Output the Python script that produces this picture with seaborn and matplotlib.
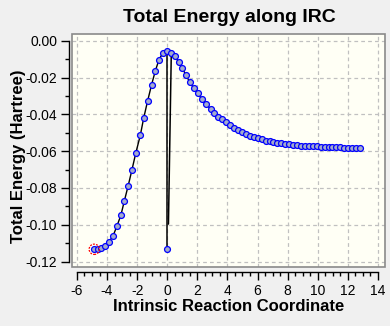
import numpy as np
import pandas as pd
import matplotlib
matplotlib.use("Agg")
import matplotlib.pyplot as plt
import seaborn as sns
from matplotlib.ticker import MultipleLocator
from matplotlib.patches import Rectangle

# ---- data ----
irc_x = [-4.85, -4.62, -4.41, -4.15, -3.88, -3.61, -3.35, -3.08, -2.86, -2.60,
         -2.35, -2.09, -1.79, -1.57, -1.31, -1.04, -0.80, -0.56, -0.29, 0.00,
         0.27, 0.50, 0.77, 1.00, 1.24, 1.50, 1.77, 2.03, 2.30, 2.56,
         2.88, 3.14, 3.40, 3.66, 3.92, 4.18, 4.45, 4.71, 4.97, 5.23,
         5.49, 5.75, 6.01, 6.28, 6.54, 6.80, 7.06, 7.32, 7.58, 7.84,
         8.11, 8.37, 8.63, 8.89, 9.15, 9.41, 9.67, 9.94, 10.20, 10.46,
         10.72, 10.98, 11.24, 11.50, 11.77, 12.03, 12.29, 12.55, 12.81]
irc_e = [-0.1133, -0.1131, -0.1125, -0.1115, -0.1093, -0.1062, -0.1008, -0.0948, -0.0873, -0.0789,
         -0.0703, -0.0610, -0.0514, -0.0422, -0.0329, -0.0239, -0.0166, -0.0106, -0.0065, -0.0054,
         -0.0065, -0.0083, -0.0117, -0.0150, -0.0185, -0.0226, -0.0259, -0.0286, -0.0318, -0.0344,
         -0.0369, -0.0391, -0.0413, -0.0427, -0.0442, -0.0458, -0.0474, -0.0487, -0.0498, -0.0507,
         -0.0516, -0.0523, -0.0530, -0.0536, -0.0543, -0.0546, -0.0550, -0.0554, -0.0557, -0.0561,
         -0.0563, -0.0567, -0.0568, -0.0570, -0.0571, -0.0572, -0.0573, -0.0574, -0.0575, -0.0576,
         -0.0577, -0.0578, -0.0579, -0.0580, -0.0581, -0.0582, -0.0583, -0.0583, -0.0584]
drop1_x = [0.0, 0.0]
drop1_e = [-0.0054, -0.1131]
drop2_x = [0.27, 0.08]
drop2_e = [-0.0065, -0.0996]
extra_x = [0.0]
extra_e = [-0.1131]
current_x = [-4.85]
current_e = [-0.1133]

title = "Total Energy along IRC"
xlabel = "Intrinsic Reaction Coordinate"
ylabel = "Total Energy (Hartree)"
x_ticks = [-6, -4, -2, 0, 2, 4, 6, 8, 10, 12, 14]
y_ticks = [0.00, -0.02, -0.04, -0.06, -0.08, -0.10, -0.12]

df = pd.DataFrame({"x": irc_x, "e": irc_e})

sns.set_theme(style="ticks")
plt.rcParams["font.family"] = ["Liberation Sans", "DejaVu Sans"]
plt.rcParams["text.color"] = "black"
plt.rcParams["axes.labelcolor"] = "black"

fig = plt.figure(figsize=(3.9, 3.26), dpi=100, facecolor="#f0f0f0")
ax = fig.add_axes([0.1854, 0.180, 0.8016, 0.7148])
ax.set_facecolor("#fffff5")

# grid
for xv in x_ticks:
    ax.axvline(xv, color="#c0c0c0", lw=0.9, ls=(0, (3, 2.5)), zorder=0)
for yv in y_ticks:
    ax.axhline(yv, color="#c0c0c0", lw=0.9, ls=(0, (3, 2.5)), zorder=0)

# drop lines
ax.plot(drop1_x, drop1_e, color="black", lw=1.1, zorder=2)
ax.plot(drop2_x, drop2_e, color="black", lw=1.1, zorder=2)

sns.lineplot(data=df, x="x", y="e", sort=False, estimator=None, color="black",
             lw=1.0, ax=ax, zorder=3)
sns.scatterplot(data=df, x="x", y="e", marker="o", s=18, color="#a4accb",
                edgecolor="#0000ff", linewidth=0.9, ax=ax, zorder=4)
sns.scatterplot(x=extra_x, y=extra_e, marker="o", s=18, color="#a4accb",
                edgecolor="#0000ff", linewidth=0.9, ax=ax, zorder=4)
ax.scatter(current_x, current_e, s=55, facecolors="none", edgecolors="red",
           linewidths=0.9, linestyle=(0, (1.5, 1)), zorder=5)

ax.set_xlim(-6.31, 14.47)
ax.set_ylim(-0.1231, 0.0035)
ax.set_xticks(x_ticks)
ax.set_yticks(y_ticks)
ax.set_xticklabels([f"{v:d}" for v in x_ticks])
ax.set_yticklabels([f"{v:.2f}" for v in y_ticks])
ax.xaxis.set_minor_locator(MultipleLocator(0.5))
ax.yaxis.set_minor_locator(MultipleLocator(0.01))

for s in ["top", "right"]:
    ax.spines[s].set_visible(False)
ax.spines["left"].set_position(("outward", 2.5))
ax.spines["bottom"].set_position(("outward", 3.2))
ax.spines["left"].set_bounds(-0.12, 0.0)
ax.spines["bottom"].set_bounds(-6, 14)
for s in ["left", "bottom"]:
    ax.spines[s].set_color("black")
    ax.spines[s].set_linewidth(1.0)

ax.tick_params(which="major", direction="out", length=5.5, width=1.0,
               colors="black", labelsize=10, pad=3)
ax.tick_params(which="minor", direction="out", length=3, width=1.0, colors="black")

ax.add_patch(Rectangle((0, 0), 1, 1, transform=ax.transAxes, fill=False,
                       edgecolor="#8a8a8a", lw=1.2, clip_on=False, zorder=6))

ax.set_xlabel(xlabel, fontsize=12, fontweight="bold", labelpad=1, color="black")
ax.set_ylabel(ylabel, fontsize=12, fontweight="bold", labelpad=0, color="black")
ax.yaxis.set_label_coords(-0.148, 0.475)
fig.text(0.587, 0.945, title, ha="center", va="center", fontsize=14,
         fontweight="bold", color="black")

fig.savefig("out.png", dpi=100, facecolor=fig.get_facecolor())
